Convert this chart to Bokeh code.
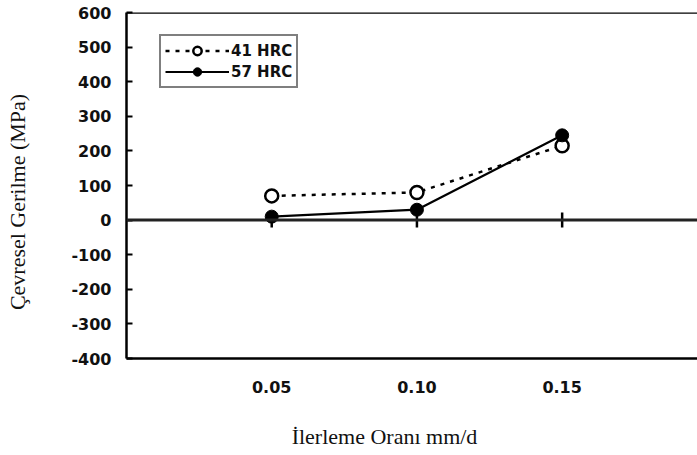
import math
from bokeh.plotting import figure
from bokeh.models import Span, Legend, LegendItem, FixedTicker, Range1d
from bokeh.embed import file_html
from bokeh.resources import INLINE

# Data
feed = [0.05, 0.10, 0.15]
hrc41 = [70, 80, 215]
hrc57 = [10, 30, 245]
x_ticks = [0.05, 0.10, 0.15]
x_tick_labels = {0.05: "0.05", 0.10: "0.10", 0.15: "0.15"}
y_ticks = [-400, -300, -200, -100, 0, 100, 200, 300, 400, 500, 600]
y_tick_labels = {v: str(v) for v in y_ticks}
x_title = "İlerleme Oranı mm/d"
y_title = "Çevresel Gerilme (MPa)"

NBSP = "\u00a0"

W, H = 697, 455
p = figure(width=W, height=H, output_backend="svg", toolbar_location=None,
           x_range=Range1d(0, 0.1966), y_range=Range1d(-400, 600),
           min_border_left=126, min_border_right=0, min_border_top=12,
           min_border_bottom=97)
p.outline_line_color = None
p.xgrid.grid_line_color = None
p.ygrid.grid_line_color = None
p.background_fill_color = "white"

tick_font = "DejaVu Sans"
serif = "Liberation Serif"

# y axis
p.yaxis.ticker = FixedTicker(ticks=y_ticks)
p.yaxis.major_label_overrides = y_tick_labels
p.yaxis.major_tick_in = 6
p.yaxis.major_tick_out = 0
p.yaxis.minor_tick_line_color = None
p.yaxis.axis_line_width = 2.5
p.yaxis.major_tick_line_width = 2
p.yaxis.major_label_text_font = tick_font
p.yaxis.major_label_text_font_size = "16px"
p.yaxis.major_label_text_font_style = "bold"
p.yaxis.major_label_text_color = "#111"
p.yaxis.major_label_standoff = 15
p.yaxis.axis_label = y_title + NBSP * 6
p.yaxis.axis_label_text_font = serif
p.yaxis.axis_label_text_font_size = "22px"
p.yaxis.axis_label_text_font_style = "normal"
p.yaxis.axis_label_text_color = "#111"
p.yaxis.axis_label_standoff = 38

# x axis
p.xaxis.ticker = FixedTicker(ticks=x_ticks)
p.xaxis.major_label_overrides = x_tick_labels
p.xaxis.major_tick_in = 0
p.xaxis.major_tick_out = 0
p.xaxis.minor_tick_line_color = None
p.xaxis.axis_line_width = 2.5
p.xaxis.major_label_text_font = tick_font
p.xaxis.major_label_text_font_size = "16px"
p.xaxis.major_label_text_font_style = "bold"
p.xaxis.major_label_text_color = "#111"
p.xaxis.major_label_standoff = 22
p.xaxis.axis_label = x_title + NBSP * 10
p.xaxis.axis_label_text_font = serif
p.xaxis.axis_label_text_font_size = "22px"
p.xaxis.axis_label_text_font_style = "normal"
p.xaxis.axis_label_text_color = "#111"
p.xaxis.axis_label_standoff = 28

# frame top and zero line
p.add_layout(Span(location=y_ticks[-1], dimension="width", line_color="black", line_width=2.5))
p.add_layout(Span(location=0, dimension="width", line_color="#222", line_width=3))

# tick marks across the zero line
p.scatter(x_ticks, [0] * len(x_ticks), marker="dash", angle=math.pi / 2, size=15,
          line_color="black", line_width=2.5)

# series
l1 = p.line(feed, hrc41, line_color="black", line_width=2.5, line_dash="4 6")
s1 = p.scatter(feed, hrc41, marker="circle", size=13, fill_color="white",
               line_color="black", line_width=2.5)
l2 = p.line(feed, hrc57, line_color="black", line_width=2.2)
s2 = p.scatter(feed, hrc57, marker="circle", size=13, fill_color="black",
               line_color="black")

legend = Legend(items=[LegendItem(label="41 HRC", renderers=[l1, s1]),
                       LegendItem(label="57 HRC", renderers=[l2, s2])],
                location=(33, 270))
legend.border_line_color = "black"
legend.border_line_width = 2
legend.label_text_font = tick_font
legend.label_text_font_size = "15px"
legend.label_text_font_style = "bold"
legend.label_text_color = "#111"
legend.glyph_width = 64
legend.glyph_height = 21
legend.label_height = 16
legend.spacing = 0
legend.padding = 4
legend.margin = 0
legend.label_standoff = 2
p.add_layout(legend, "center")

open("out.html", "w").write(file_html(p, INLINE))
